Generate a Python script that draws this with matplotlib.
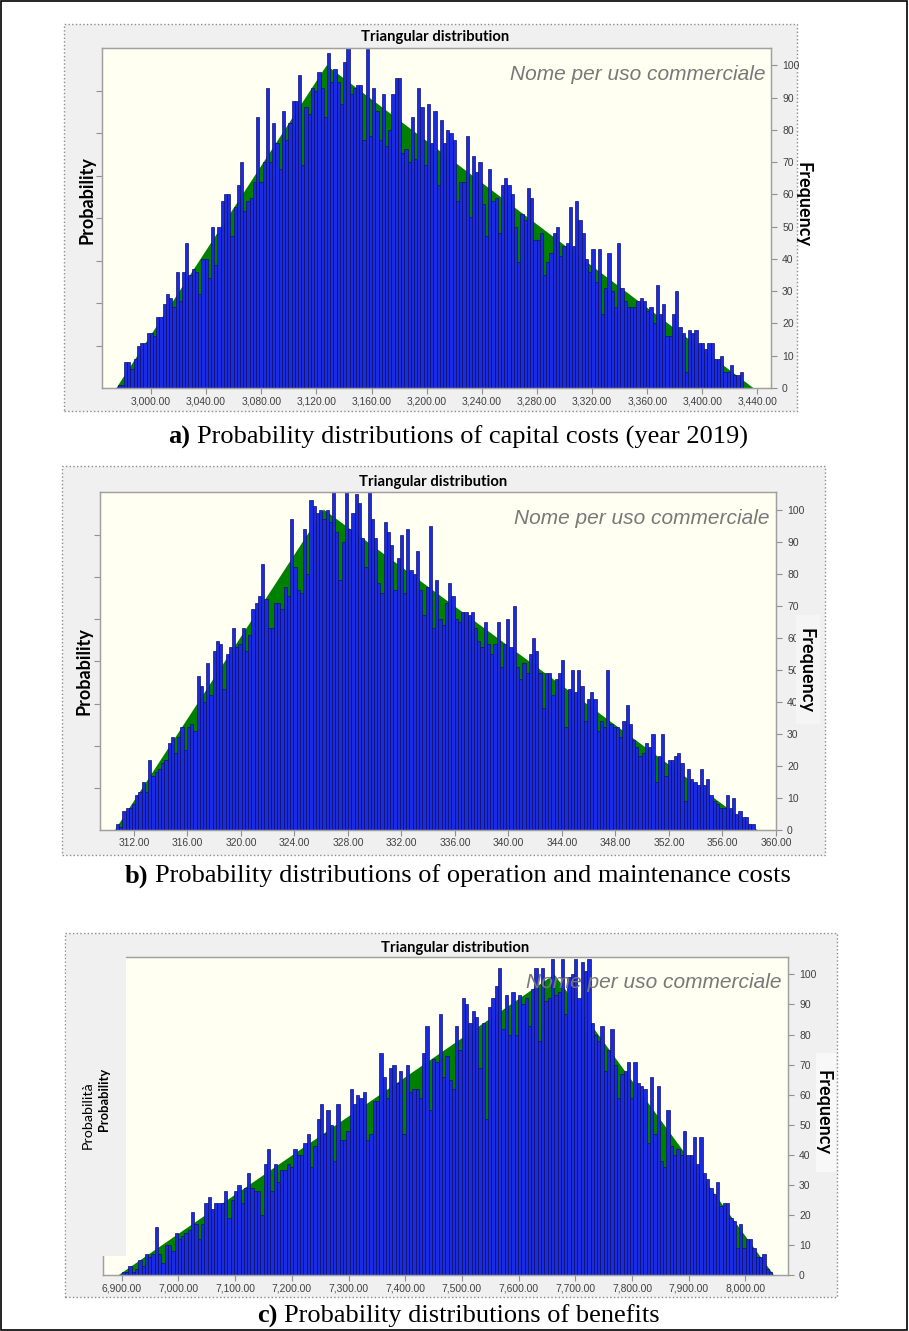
import numpy as np
import matplotlib
matplotlib.use("Agg")
import matplotlib.pyplot as plt
from matplotlib.patches import Rectangle

# ---- data (bar heights = frequency per bin) ----
capital_counts = [
    1, 1, 8, 8, 6, 9, 13, 14, 14, 17, 17, 16, 22, 22, 26, 29, 28, 25, 36, 27, 36, 45, 35, 37, 36, 29,
    40, 40, 34, 50, 38, 50, 58, 60, 60, 47, 56, 63, 70, 55, 58, 59, 64, 84, 64, 70, 93, 70, 82, 76, 68,
    86, 77, 82, 89, 89, 97, 69, 87, 85, 93, 92, 98, 93, 84, 104,
    95, 99, 95, 88, 101, 106, 91, 93, 94, 94, 77, 105, 78, 93, 86, 77, 91, 75, 80, 91, 96, 96, 73, 74,
    70, 84, 71, 93, 87, 69, 88, 76, 86, 63, 83, 76, 80, 79, 77, 58, 64, 64, 78, 53, 72, 67, 70, 57, 47,
    68, 58, 59, 48, 63, 65, 63, 60, 50, 39, 54, 52, 62, 59, 46, 46, 48, 35, 39, 42,
    48, 50, 41, 44, 45, 56, 44, 58, 52, 48, 40, 36, 43, 33, 43, 23, 31, 42, 30, 25, 45, 31, 27, 25, 25,
    25, 27, 28, 27, 24, 25, 20, 32, 23, 26, 16, 16, 23, 30, 19, 17, 5, 18, 17, 18, 14, 14, 12, 14, 14,
    9, 9, 10, 5, 5, 7, 4, 4, 5,
]
capital_range = (2975.8, 3429.3)
capital_tri = (2975.0, 3127.5, 3437.0)   # min, mode, max of triangular pdf
capital_ticks = list(range(3000, 3441, 40))

om_counts = [
    2, 1, 6, 7, 7, 8, 11, 12, 15, 12, 22, 17, 18, 19, 21, 22, 27, 29, 24, 29, 32, 25, 32, 33, 31, 48,
    45, 40, 52, 42, 56, 59, 58, 44, 55, 57, 63, 57, 58, 63, 56, 61, 69, 71, 73, 83, 72, 63, 63, 71, 71,
    69, 76, 73, 97, 82, 75, 74, 94, 80, 103, 101, 99, 100, 97, 100,
    96, 106, 93, 78, 90, 106, 94, 99, 105, 102, 91, 82, 106, 97, 91, 77, 74, 96, 93, 89, 75, 85, 92,
    74, 94, 81, 80, 87, 75, 67, 76, 95, 63, 78, 66, 64, 71, 77, 73, 66, 65, 68, 68, 67, 68, 63, 59, 57,
    65, 58, 55, 58, 65, 51, 58, 66, 57, 70, 51, 47, 52, 49, 55, 60, 56, 49, 38, 49, 49, 42,
    47, 49, 53, 32, 44, 50, 43, 50, 45, 34, 41, 43, 41, 31, 34, 32, 50, 33, 32, 32, 29, 34, 39, 33, 28,
    26, 23, 24, 27, 26, 30, 15, 23, 30, 17, 22, 22, 23, 24, 21, 9, 19, 16, 15, 14, 19, 14, 16, 11, 9,
    8, 7, 7, 11, 7, 10, 5, 6, 4, 4, 2, 2,
]
om_range = (310.66, 358.4)
om_tri = (310.6, 326.2, 358.6)
om_ticks = list(range(312, 361, 4))

benefit_counts = [
    1, 1, 3, 1, 2, 5, 3, 7, 6, 7, 16, 7, 4, 10, 10, 8, 14, 12, 13, 14, 15, 21, 17, 12, 17, 24, 26, 22,
    24, 24, 24, 28, 19, 25, 28, 30, 24, 29, 34, 29, 28, 28, 20, 37, 42, 28, 37, 31, 35, 35, 37, 36, 42,
    40, 40, 44, 47, 36, 43, 52, 57, 47, 55, 50, 38, 57, 45, 45, 48, 62, 57, 60, 59, 61, 45, 47, 58, 58,
    74, 66, 59, 69, 70, 64, 68, 47, 70, 61, 62, 62, 59, 74, 83, 55, 72, 71, 87, 66, 73, 65, 62, 83, 75, 92,
    90, 84, 88, 86, 69, 84, 52, 89, 92, 96, 102, 82, 93, 80, 94, 80, 93, 90, 92, 83, 95, 102, 78, 102,
    91, 92, 105, 93, 94, 105, 87, 99, 100, 105, 92, 104, 101, 105, 84, 80, 78, 83, 68, 75, 82, 70, 59,
    67, 68, 71, 59, 71, 64, 63, 62, 44, 66, 47, 63, 38, 36, 55, 43, 40, 42, 40, 48, 40, 40, 46, 37, 46,
    34, 32, 29, 27, 31, 23, 24, 24, 19, 18, 9, 17, 9, 12, 12, 9, 6, 6, 7, 2, 1,
]
benefit_range = (6900.0, 8047.0)
benefit_tri = (6895.0, 7663.0, 8050.0)
benefit_ticks = list(range(6900, 8001, 100))

tri_peak = 100
freq_ticks = list(range(0, 101, 10))
prob_ticks = [13.15, 26.3, 39.45, 52.6, 65.75, 78.9, 92.05]

# ---- layout (pixel boxes in the 909x1331 image) ----
W, H = 909, 1331
BAR_FC, BAR_EC = "#1a2be0", "#10106e"
GREEN = "#008000"
CREAM = "#fffff2"
PANEL_BG = "#f0f0f0"
SPINE = "#a0a0a0"
TXT = "#404040"


def fr(x0, y0, x1, y1):
    return [x0 / W, 1 - y1 / H, (x1 - x0) / W, (y1 - y0) / H]


def rect(fig, x0, y0, x1, y1, z=-1, **kw):
    r = Rectangle((x0 / W, 1 - y1 / H), (x1 - x0) / W, (y1 - y0) / H,
                  transform=fig.transFigure, zorder=z, **kw)
    fig.add_artist(r)


def ftext(fig, x, y, s, **kw):
    return fig.text(x / W, 1 - y / H, s, **kw)


def panel(fig, outer, plot, counts, rng, tri, xlim, ymax, xticks, left_ticks=True):
    rect(fig, *outer, facecolor=PANEL_BG, edgecolor="#8c8c8c", linestyle=":", lw=1.0)
    ax = fig.add_axes(fr(*plot))
    ax.set_facecolor(CREAM)
    ax.fill([tri[0], tri[1], tri[2]], [0, tri_peak, 0], color=GREEN, lw=0, zorder=1)
    edges = np.linspace(rng[0], rng[1], len(counts) + 1)
    ax.bar(edges[:-1], counts, width=np.diff(edges), align="edge", color=BAR_FC,
           edgecolor=BAR_EC, linewidth=0.5, zorder=2)
    ax.set_xlim(*xlim)
    ax.set_ylim(0, ymax)
    ax.set_xticks(xticks)
    ax.set_xticklabels([f"{v:,.2f}" for v in xticks])
    ax.tick_params(axis="x", labelsize=7.4, labelcolor=TXT, color="#909090", length=4, pad=2)
    for lab in ax.get_xticklabels():
        lab.set_family("Liberation Sans")
    if left_ticks:
        ax.set_yticks(prob_ticks)
    else:
        ax.set_yticks([])
    ax.set_yticklabels([])
    ax.tick_params(axis="y", color="#909090", length=4)
    for s in ax.spines.values():
        s.set_color(SPINE)
        s.set_linewidth(0.9)
    ax2 = ax.twinx()
    ax2.set_ylim(0, ymax)
    ax2.set_yticks(freq_ticks)
    ax2.tick_params(axis="y", labelsize=7.5, labelcolor=TXT, color="#909090", length=4, pad=4)
    for lab in ax2.get_yticklabels():
        lab.set_family("Liberation Sans")
    for s in ax2.spines.values():
        s.set_color(SPINE)
        s.set_linewidth(0.9)
    return ax


def caption(fig, cx, y, tag, rest, size=19):
    # bold tag + regular text, centred as one line
    rend = fig.canvas.get_renderer()
    t1 = ftext(fig, 0, y, tag, ha="left", va="center", fontsize=size,
               family="Liberation Serif", fontweight="bold")
    t2 = ftext(fig, 0, y, rest, ha="left", va="center", fontsize=size,
               family="Liberation Serif")
    w1 = t1.get_window_extent(renderer=rend).width
    w2 = t2.get_window_extent(renderer=rend).width
    gap = size * 0.25 * 100 / 72
    x0 = cx - (w1 + gap + w2) / 2
    t1.set_x(x0 / W)
    t2.set_x((x0 + w1 + gap) / W)


fig = plt.figure(figsize=(W / 100, H / 100), dpi=100)
fig.patch.set_facecolor("white")

title_kw = dict(ha="center", va="center", fontsize=10.7, fontweight="bold", family="Lato")
wm_kw = dict(ha="right", va="center", fontsize=15, style="italic", color="#787878",
             family="Liberation Sans", zorder=5)
lab_kw = dict(ha="center", va="center", fontsize=13, fontweight="bold", family="Lato", zorder=5)

# a) capital costs
panel(fig, (64, 24, 797, 411), (102, 48, 771, 388), capital_counts, capital_range,
      capital_tri, (2964.5, 3449.8), 105.4, capital_ticks)
ftext(fig, 435, 37, "Triangular distribution", **title_kw)
ftext(fig, 765, 74, "Nome per uso commerciale", **wm_kw)
ftext(fig, 87, 200, "Probability", rotation=90, **lab_kw)
ftext(fig, 803, 204, "Frequency", rotation=270, **lab_kw)
caption(fig, 458, 437, "a)", "Probability distributions of capital costs (year 2019)")

# b) O&M costs
panel(fig, (62, 466, 825, 855), (100, 492, 776, 830), om_counts, om_range,
      om_tri, (309.47, 360.0), 105.5, om_ticks)
rect(fig, 796, 615, 820, 724, z=2, facecolor="#f5f5f5", lw=0)
ftext(fig, 433, 482, "Triangular distribution", **title_kw)
ftext(fig, 770, 518, "Nome per uso commerciale", **wm_kw)
ftext(fig, 84, 671, "Probability", rotation=90, **lab_kw)
ftext(fig, 806, 670, "Frequency", rotation=270, **lab_kw)
caption(fig, 458, 876, "b)", "Probability distributions of operation and maintenance costs")

# c) benefits
panel(fig, (65, 933, 837, 1297), (103, 957, 788, 1275), benefit_counts, benefit_range,
      benefit_tri, (6867.0, 8075.0), 105.8, benefit_ticks, left_ticks=False)
rect(fig, 66, 942, 126, 1256, z=2, facecolor=PANEL_BG, lw=0)
rect(fig, 816, 1053, 836, 1172, z=2, facecolor="#f8f8f8", lw=0)
ftext(fig, 455, 948, "Triangular distribution", **title_kw)
ftext(fig, 782, 983, "Nome per uso commerciale", **wm_kw)
ftext(fig, 88, 1115, "Probabilità", rotation=90, ha="center", va="center", fontsize=10.3,
      family="Lato", zorder=5)
ftext(fig, 104, 1099, "Probability", rotation=90, ha="center", va="center", fontsize=9.3,
      fontweight="bold", family="Lato", zorder=5)
ftext(fig, 823, 1113, "Frequency", rotation=270, **lab_kw)
caption(fig, 458, 1316, "c)", "Probability distributions of benefits")

# outer table border
fig.add_artist(Rectangle((0.001, 0.001), 0.997, 0.998, transform=fig.transFigure,
                         fill=False, edgecolor="black", lw=1.2, zorder=10))

fig.savefig("out.png", dpi=100)
